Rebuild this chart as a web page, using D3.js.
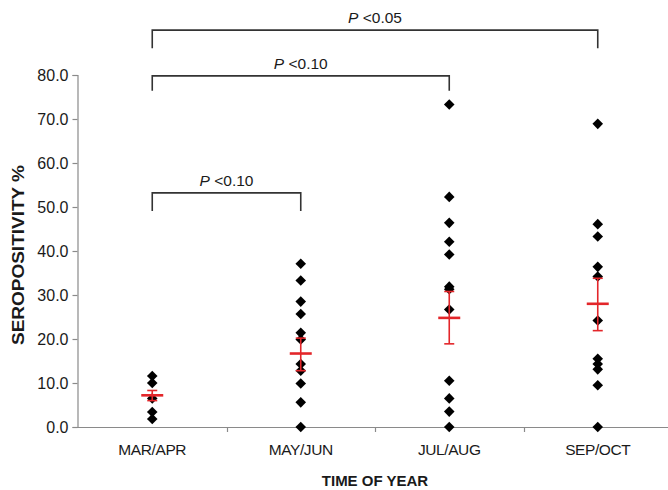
<!DOCTYPE html>
<html>
<head>
<meta charset="utf-8">
<script src="https://cdn.jsdelivr.net/npm/d3@7"></script>
<style>
  body { margin: 0; background: #fff; }
  svg { font-family: 'Liberation Sans', Arial, sans-serif; }
</style>
</head>
<body>
<div id="chart"></div>
<script>
// groups on the x axis
var categories = ['MAR/APR', 'MAY/JUN', 'JUL/AUG', 'SEP/OCT']

// seropositivity of each sample, by group
var marApr = [11.6, 10.0, 6.5, 3.4, 1.8]
var mayJun = [37.1, 33.3, 28.5, 25.7, 21.4, 19.9, 14.3, 12.8, 9.9, 5.6, 0.0]
var julAug = [73.3, 52.3, 46.4, 42.1, 39.2, 31.9, 31.3, 26.7, 10.5, 6.5, 3.5, 0.0]
var sepOct = [68.9, 46.1, 43.3, 36.4, 34.2, 24.2, 15.5, 14.3, 13.1, 9.5, 0.0]

// mean and error bar per group
var means = [7.2, 16.7, 24.8, 28.0]
var errLow = [6.0, 12.8, 18.9, 21.9]
var errHigh = [8.3, 20.2, 30.8, 33.8]

var yTicks = [0, 10, 20, 30, 40, 50, 60, 70, 80]

// significance brackets: from group, to group, label, bracket level, foot level
var bracketFrom = [0, 0, 0]
var bracketTo = [1, 2, 3]
var bracketText = ['<0.10', '<0.10', '<0.05']
var bracketTop = [53.2, 79.8, 90.2]
var bracketFoot = [49.1, 76.4, 86.1]

var width = 668
var height = 490

var svg = d3
  .select('#chart')
  .append('svg')
  .attr('width', width)
  .attr('height', height)

var xScale = d3.scaleBand().domain(categories).range([78, 672])
var yScale = d3.scaleLinear().domain([0, 80]).range([427, 75])

var axisColor = '#8a8a8a'
var red = '#e3262a'
var ink = '#1a1a1a'

// y axis
var yAxis = svg
  .append('g')
  .attr('transform', 'translate(77.5,0)')
  .call(d3.axisLeft(yScale).tickValues(yTicks).tickSize(5).tickFormat(d3.format('.1f')))
yAxis.select('.domain').attr('stroke', axisColor).attr('stroke-width', 1.2)
yAxis.selectAll('.tick line').attr('stroke', axisColor).attr('stroke-width', 1.2)
yAxis
  .selectAll('.tick text')
  .attr('font-size', 16)
  .attr('fill', ink)
  .attr('font-family', 'Liberation Sans, Arial, sans-serif')
  .attr('x', -9)

// x axis: line plus ticks on band borders
var xAxis = svg.append('g')
xAxis
  .append('line')
  .attr('x1', 77)
  .attr('x2', width)
  .attr('y1', yScale(0) + 0.5)
  .attr('y2', yScale(0) + 0.5)
  .attr('stroke', axisColor)
  .attr('stroke-width', 1.2)

xAxis
  .selectAll('.xtick')
  .data(categories.slice(1))
  .enter()
  .append('line')
  .attr('class', 'xtick')
  .attr('x1', (d) => Math.round(xScale(d)) + 0.5)
  .attr('x2', (d) => Math.round(xScale(d)) + 0.5)
  .attr('y1', yScale(0))
  .attr('y2', yScale(0) + 5)
  .attr('stroke', axisColor)
  .attr('stroke-width', 1.2)

xAxis
  .selectAll('.xlabel')
  .data(categories)
  .enter()
  .append('text')
  .attr('class', 'xlabel')
  .attr('x', (d) => xScale(d) + xScale.bandwidth() / 2)
  .attr('y', 455)
  .attr('text-anchor', 'middle')
  .attr('font-size', 15.5)
  .attr('letter-spacing', -0.4)
  .attr('fill', ink)
  .text((d) => d)

// axis titles
svg
  .append('text')
  .attr('x', 375)
  .attr('y', 486)
  .attr('text-anchor', 'middle')
  .attr('font-size', 15)
  .attr('font-weight', 'bold')
  .attr('fill', ink)
  .text('TIME OF YEAR')

svg
  .append('text')
  .attr('transform', 'translate(24,255) rotate(-90)')
  .attr('text-anchor', 'middle')
  .attr('font-size', 17)
  .attr('font-weight', 'bold')
  .attr('fill', ink)
  .attr('textLength', 180)
  .attr('lengthAdjust', 'spacingAndGlyphs')
  .text('SEROPOSITIVITY %')

// points
var groups = [marApr, mayJun, julAug, sepOct]
var points = []
groups.forEach((vals, i) => {
  vals.forEach((v) => points.push({ cat: categories[i], value: v }))
})

var diamond = d3.symbol().type(d3.symbolSquare).size(56)

svg
  .selectAll('.point')
  .data(points)
  .enter()
  .append('path')
  .attr('class', 'point')
  .attr('d', diamond)
  .attr('transform', (d) => {
    var cx = xScale(d.cat) + xScale.bandwidth() / 2
    return 'translate(' + cx + ',' + yScale(d.value) + ') rotate(45)'
  })
  .attr('fill', '#000')

// mean and error bars
var stats = categories.map((c, i) => ({
  cat: c,
  mean: means[i],
  lo: errLow[i],
  hi: errHigh[i]
}))

var errG = svg
  .selectAll('.err')
  .data(stats)
  .enter()
  .append('g')
  .attr('class', 'err')
  .attr('transform', (d) => 'translate(' + (xScale(d.cat) + xScale.bandwidth() / 2) + ',0)')

errG
  .append('line')
  .attr('x1', 0)
  .attr('x2', 0)
  .attr('y1', (d) => yScale(d.lo))
  .attr('y2', (d) => yScale(d.hi))
  .attr('stroke', red)
  .attr('stroke-width', 1.6)

errG
  .append('line')
  .attr('x1', -5)
  .attr('x2', 5)
  .attr('y1', (d) => yScale(d.lo))
  .attr('y2', (d) => yScale(d.lo))
  .attr('stroke', red)
  .attr('stroke-width', 1.6)

errG
  .append('line')
  .attr('x1', -5)
  .attr('x2', 5)
  .attr('y1', (d) => yScale(d.hi))
  .attr('y2', (d) => yScale(d.hi))
  .attr('stroke', red)
  .attr('stroke-width', 1.6)

errG
  .append('line')
  .attr('x1', -11)
  .attr('x2', 11)
  .attr('y1', (d) => yScale(d.mean))
  .attr('y2', (d) => yScale(d.mean))
  .attr('stroke', red)
  .attr('stroke-width', 2.6)

// significance brackets
var brackets = bracketText.map((t, i) => ({
  x1: xScale(categories[bracketFrom[i]]) + xScale.bandwidth() / 2,
  x2: xScale(categories[bracketTo[i]]) + xScale.bandwidth() / 2,
  text: t,
  top: bracketTop[i],
  foot: bracketFoot[i]
}))

var br = svg
  .selectAll('.bracket')
  .data(brackets)
  .enter()
  .append('g')
  .attr('class', 'bracket')

br.append('path')
  .attr('d', (d) => {
    var yt = yScale(d.top)
    var yf = yScale(d.foot)
    return 'M' + d.x1 + ',' + yf + 'V' + yt + 'H' + d.x2 + 'V' + yf
  })
  .attr('fill', 'none')
  .attr('stroke', '#333')
  .attr('stroke-width', 1.6)

var lbl = br
  .append('text')
  .attr('x', (d) => (d.x1 + d.x2) / 2)
  .attr('y', (d) => yScale(d.top) - 7)
  .attr('text-anchor', 'middle')
  .attr('font-size', 15.5)
  .attr('fill', ink)

lbl.append('tspan').attr('font-style', 'italic').text('P')
lbl.append('tspan').text((d) => ' ' + d.text)
</script>
</body>
</html>
